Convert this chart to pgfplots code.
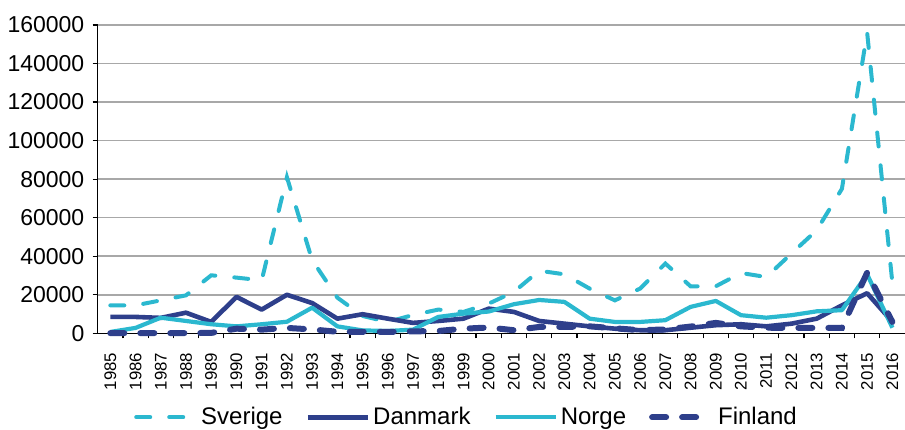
\documentclass[border=0pt]{standalone}
\usepackage{fontspec}
\setmainfont{Liberation Sans}
\usepackage{pgfplots}
\usepackage{pgfplotstable}
\pgfplotsset{compat=1.18}

\definecolor{cyanline}{HTML}{2BB8CF}
\definecolor{navyline}{HTML}{2E3F8B}
\definecolor{gridgray}{HTML}{A8A8A8}

% asylum seekers per year
\pgfplotstableread{
year sverige danmark norge finland
1985 14500  8500   700   100
1986 14500  8500  2800   100
1987 17100  8000  8100   100
1988 19700 10700  6400   100
1989 30100  5900  4700   200
1990 28900 18900  3600  2400
1991 27500 12300  4700  1900
1992 81000 20000  6000  2800
1993 38000 15700 13300  2000
1994 18500  7600  3600   800
1995  9000  9900  1500   800
1996  5900  7600  1200   700
1997  9500  5400  1900  1000
1998 12300  6400  8500  1200
1999 11100  7600 10200  2400
2000 15400 12800 11300  3000
2001 21500 11100 15100  1600
2002 32500  6400 17300  3300
2003 30600  5000 16300  3300
2004 23200  3600  7600  3600
2005 17100  2400  5900  2600
2006 23200  1600  5900  1600
2007 36200  1600  6800  2000
2008 24400  2900 13700  3500
2009 24400  4200 16800  5400
2010 31300  4700  9400  3600
2011 29200  3600  8100  2900
2012 41400  5000  9400  2800
2013 53500  7600 11400  2800
2014 75000 14500 12000  2800
2015 156000 20800 30600 31500
2016 26000  6000  2900  5900
}\asyl

\begin{document}
\begin{tikzpicture}
\begin{axis}[
  scale only axis, width=403.65pt, height=154.15pt,
  xmin=1984.5, xmax=2016.5, ymin=0, ymax=160000,
  clip=false,
  axis x line*=bottom, axis y line*=left,
  axis line style={black, line width=0.6pt, -},
  tick align=outside,
  major tick length=2.5pt, minor tick length=2.5pt,
  ytick={0,20000,...,160000},
  scaled y ticks=false,
  /pgf/number format/fixed,
  /pgf/number format/precision=0,
  /pgf/number format/1000 sep={},
  /pgf/number format/assume math mode=true,
  xtick={1985,...,2016},
  minor xtick={1985.5,1986.5,...,2015.5},
  every major x tick/.append style={draw=none},
  every minor x tick/.append style={black, line width=0.6pt},
  ytick style={black, line width=0.6pt},
  ymajorgrids,
  major grid style={gridgray, line width=0.8pt},
  yticklabel style={font=\fontsize{11.5}{13}\selectfont, inner sep=0pt, xshift=-4pt},
  xticklabel style={font=\fontsize{8.4}{10}\selectfont, rotate=90, anchor=east, inner sep=0pt},
  xticklabel shift=7pt,
  legend style={at={(0.4575,-0.2724)}, anchor=center, draw=none, fill=none,
    font=\fontsize{12}{14}\selectfont,
    nodes={inner sep=1.5pt},
    /tikz/every even column/.append style={column sep=10pt}},
  legend columns=4,
  legend image code/.code={\draw[#1] (0pt,0pt) -- (30pt,0pt);},
]
\addplot[cyanline, line width=2pt, line cap=round, dash pattern=on 7pt off 9.5pt, mark=none]
  table[x=year, y=sverige]{\asyl};
\addlegendentry{Sverige}
\addplot[navyline, line width=2.3pt, line join=round, mark=none]
  table[x=year, y=danmark]{\asyl};
\addlegendentry{Danmark}
\addplot[cyanline, line width=2.1pt, line join=round, mark=none]
  table[x=year, y=norge]{\asyl};
\addlegendentry{Norge}
\addplot[navyline, line width=3pt, line cap=round, dash pattern=on 7pt off 8pt, mark=none]
  table[x=year, y=finland]{\asyl};
\addlegendentry{Finland}
\coordinate (ll) at (rel axis cs:0,0);
\end{axis}
\pgfresetboundingbox
\path ([shift={(-48.85pt,-47.85pt)}]ll) rectangle ([shift={(403.65pt,166.65pt)}]ll);
\end{tikzpicture}
\end{document}
